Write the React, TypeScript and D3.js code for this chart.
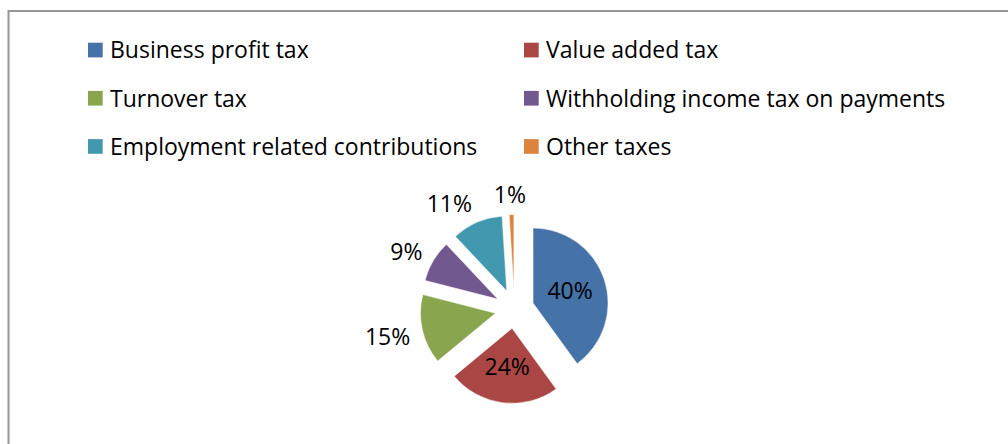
import React from "react";
import * as d3 from "d3";

const categories = [
  "Business profit tax",
  "Value added tax",
  "Turnover tax",
  "Withholding income tax on payments",
  "Employment related contributions",
  "Other taxes",
];
const values = [40, 24, 15, 9, 11, 1];
const colors = ["#4572A7", "#AA4643", "#89A54E", "#71588F", "#4198AF", "#DB843D"];

const W = 1008;
const H = 444;
const FONT = "'Open Sans', sans-serif";
const FS = 23;

export default function App() {
  const cx = 514.5;
  const cy = 309;
  const r = 75;
  const explode = 19.5;

  const total = d3.sum(values);
  const pie = d3.pie<number>().sort(null).startAngle(0).endAngle(2 * Math.PI)(values);
  const arc = d3.arc<d3.PieArcDatum<number>>().innerRadius(0).outerRadius(r);

  const legendX = [88, 524];
  const legendY0 = 58.3;
  const legendDY = 48.2;

  const labelWidth = (s: string) => {
    const digits = s.length - 1;
    return FS * (0.572 * digits + 0.854);
  };
  const capH = FS * 0.714;

  return (
    <svg
      width={W}
      height={H}
      style={{ position: "absolute", left: 0, top: 0, display: "block", background: "#fff" }}
      fontFamily={FONT}
    >
      <rect x={8.5} y={11} width={1100} height={600} fill="#fff" stroke="#969696" strokeWidth={2} />

      {categories.map((c, i) => {
        const col = i % 2;
        const row = Math.floor(i / 2);
        const x = legendX[col];
        const base = legendY0 + row * legendDY;
        return (
          <g key={c}>
            <rect x={x} y={base - 15.6} width={14.7} height={14.7} fill={colors[i]} />
            <text x={x + 22} y={base} fontSize={FS} fill="#000">
              {c}
            </text>
          </g>
        );
      })}

      {pie.map((d, i) => {
        const mid = (d.startAngle + d.endAngle) / 2;
        const dx = Math.sin(mid);
        const dy = -Math.cos(mid);
        const ax = cx + dx * explode;
        const ay = cy + dy * explode;
        return (
          <path
            key={i}
            d={arc(d) as string}
            transform={`translate(${ax},${ay})`}
            fill={colors[i]}
            stroke="#fff"
            strokeWidth={0.5}
          />
        );
      })}

      {pie.map((d, i) => {
        const mid = (d.startAngle + d.endAngle) / 2;
        const dx = Math.sin(mid);
        const dy = -Math.cos(mid);
        const ax = cx + dx * explode;
        const ay = cy + dy * explode;
        const label = `${Math.round((d.value / total) * 100)}%`;
        const frac = d.value / total;
        let lx: number;
        let ly: number;
        if (frac > 0.2) {
          const rr = r * 0.52;
          lx = ax + dx * rr;
          ly = ay + dy * rr;
        } else {
          const gap = 12;
          const hw = labelWidth(label) / 2;
          const hh = capH / 2 + 2;
          const px = ax + dx * (r + gap);
          const py = ay + dy * (r + gap);
          const k = Math.max(-1, Math.min(1, 2.5 * dx));
          lx = px + hw * k;
          ly = py + hh * dy + 2;
        }
        return (
          <text
            key={"l" + i}
            x={lx}
            y={ly + capH / 2}
            textAnchor="middle"
            fontSize={FS}
            fill="#000"
          >
            {label}
          </text>
        );
      })}
    </svg>
  );
}
